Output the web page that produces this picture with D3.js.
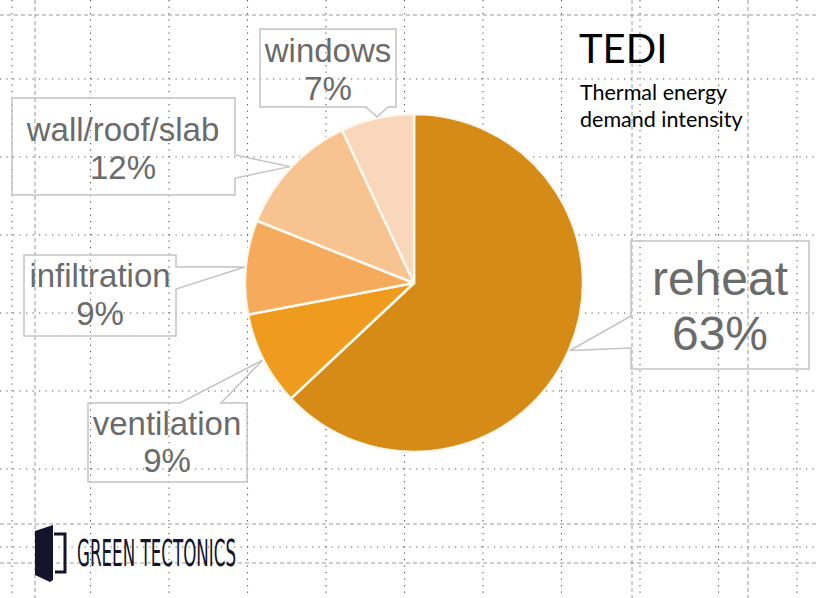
<!DOCTYPE html>
<html>
<head>
<meta charset="utf-8">
<script src="https://cdn.jsdelivr.net/npm/d3@7"></script>
<style>
  html, body { margin: 0; padding: 0; background: #fff; }
  svg { display: block; }
</style>
</head>
<body>
<svg id="chart" width="818" height="598"></svg>
<script>
// chart data
var categories = ["reheat", "ventilation", "infiltration", "wall/roof/slab", "windows"];
var shares = [63, 9, 9, 12, 7];
var sliceColors = ["#D68B17", "#EE9B1E", "#F5AB5B", "#F7C391", "#F9D7BB"];

var title = "TEDI";
var subtitle = ["Thermal energy", "demand intensity"];

var svg = d3.select("#chart");
var width = 818, height = 598;

// background grid (slide guides)
var gx = d3.scaleLinear().domain([0, 10]).range([12, 797]);
var gy = d3.scaleLinear().domain([0, 6]).range([79, 547]);
var grid = svg.append("g");
d3.range(0, 11).forEach(function (i) {
    grid.append("line").attr("x1", gx(i)).attr("x2", gx(i)).attr("y1", 0).attr("y2", height)
        .attr("stroke", "#555").attr("stroke-width", 1.1).attr("stroke-dasharray", "1.2 5.3");
});
d3.range(0, 7).forEach(function (i) {
    grid.append("line").attr("x1", 0).attr("x2", width).attr("y1", gy(i)).attr("y2", gy(i))
        .attr("stroke", "#555").attr("stroke-width", 1.1).attr("stroke-dasharray", "1.2 5.3");
});
[35, 632, 748].forEach(function (x) {
    grid.append("line").attr("x1", x).attr("x2", x).attr("y1", 0).attr("y2", height)
        .attr("stroke", "#999").attr("stroke-width", 1).attr("stroke-dasharray", "4 3");
});
[15, 524, 563].forEach(function (y) {
    grid.append("line").attr("x1", 0).attr("x2", width).attr("y1", y).attr("y2", y)
        .attr("stroke", "#999").attr("stroke-width", 1).attr("stroke-dasharray", "4 3");
});

// pie
var cx = 414, cy = 283, radius = 169;
var pie = d3.pie().sort(null).value(function (d) { return d; });
var arcs = pie(shares);
var arc = d3.arc().innerRadius(0).outerRadius(radius);

var pieG = svg.append("g").attr("transform", "translate(" + cx + "," + cy + ")");
pieG.selectAll("path").data(arcs).enter().append("path")
    .attr("d", arc)
    .attr("fill", function (d, i) { return sliceColors[i]; })
    .attr("stroke", "#FFF8EE")
    .attr("stroke-width", 2.5)
    .attr("stroke-linejoin", "round");

// callout layout (box + wedge side)
var callouts = [
    {box: [631, 241, 178, 128], side: "left", a: [316, 348], tx: 720, y1: 295, y2: 350, size: 48},
    {box: [88, 403, 159, 79], side: "top", a: [180, 221], tx: 167, y1: 435, y2: 472, size: 33},
    {box: [24, 255, 152, 81], side: "right", a: [267, 289], tx: 100, y1: 287, y2: 325, size: 33},
    {box: [12, 98, 223, 97], side: "right", a: [155, 178], tx: 123, y1: 141, y2: 179, size: 33},
    {box: [260, 29, 136, 78], side: "bottom", a: [366, 388], tx: 328, y1: 62, y2: 100, size: 33}
];

function calloutPath(c, tip) {
    var x = c.box[0], y = c.box[1], w = c.box[2], h = c.box[3];
    var a1 = c.a[0], a2 = c.a[1];
    var p = d3.path();
    p.moveTo(x, y);
    if (c.side === "top") { p.lineTo(a1, y); p.lineTo(tip[0], tip[1]); p.lineTo(a2, y); }
    p.lineTo(x + w, y);
    if (c.side === "right") { p.lineTo(x + w, a1); p.lineTo(tip[0], tip[1]); p.lineTo(x + w, a2); }
    p.lineTo(x + w, y + h);
    if (c.side === "bottom") { p.lineTo(a2, y + h); p.lineTo(tip[0], tip[1]); p.lineTo(a1, y + h); }
    p.lineTo(x, y + h);
    if (c.side === "left") { p.lineTo(x, a2); p.lineTo(tip[0], tip[1]); p.lineTo(x, a1); }
    p.closePath();
    return p.toString();
}

var labelG = svg.append("g");
arcs.forEach(function (d, i) {
    var c = callouts[i];
    var mid = (d.startAngle + d.endAngle) / 2;
    var tip = [cx + 170 * Math.sin(mid), cy - 170 * Math.cos(mid)];
    labelG.append("path")
        .attr("d", calloutPath(c, tip))
        .attr("fill", "none")
        .attr("stroke", "#C4C4C4")
        .attr("stroke-width", 1.5);
    labelG.append("text")
        .attr("x", c.tx).attr("y", c.y1)
        .attr("text-anchor", "middle")
        .attr("font-family", "'Liberation Sans', Arial, sans-serif")
        .attr("font-size", c.size)
        .attr("fill", "#6B6B6B")
        .text(categories[i]);
    labelG.append("text")
        .attr("x", c.tx).attr("y", c.y2)
        .attr("text-anchor", "middle")
        .attr("font-family", "'Liberation Sans', Arial, sans-serif")
        .attr("font-size", c.size)
        .attr("fill", "#6B6B6B")
        .text(shares[i] + "%");
});

// title
svg.append("text")
    .attr("x", 579).attr("y", 63)
    .attr("font-family", "Lato, 'Open Sans', sans-serif")
    .attr("font-size", 40)
    .attr("fill", "#000")
    .text(title);
subtitle.forEach(function (s, i) {
    svg.append("text")
        .attr("x", 580).attr("y", 100 + i * 27)
        .attr("font-family", "Lato, 'Open Sans', sans-serif")
        .attr("font-size", 21.5)
        .attr("fill", "#000")
        .text(s);
});

// logo
var logo = svg.append("g");
logo.append("path")
    .attr("d", "M35,531 L53,525 L53,580 L50,582 L35,575 Z")
    .attr("fill", "#14142A");
logo.append("path")
    .attr("d", "M54,534 H65 V572 H55")
    .attr("fill", "none")
    .attr("stroke", "#14142A")
    .attr("stroke-width", 3);
logo.append("text")
    .attr("x", 77).attr("y", 566)
    .attr("font-family", "'Liberation Sans Narrow', 'DejaVu Sans Condensed', sans-serif")
    .attr("font-size", 37)
    .attr("textLength", 159)
    .attr("lengthAdjust", "spacingAndGlyphs")
    .attr("fill", "#14142A")
    .text("GREEN TECTONICS");
</script>
</body>
</html>
